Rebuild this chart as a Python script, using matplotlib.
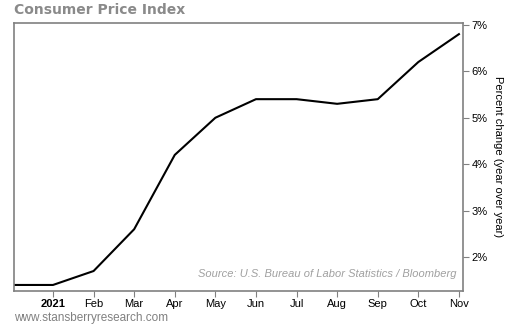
import matplotlib.pyplot as plt

plt.rcParams['font.family'] = ['Liberation Sans', 'DejaVu Sans']

# CPI, percent change year over year (Dec 2020 .. Nov 2021)
months = list(range(-1, 11))
cpi = [1.4, 1.4, 1.7, 2.6, 4.2, 5.0, 5.4, 5.4, 5.3, 5.4, 6.2, 6.8]
tick_labels = ['2021', 'Feb', 'Mar', 'Apr', 'May', 'Jun', 'Jul', 'Aug', 'Sep', 'Oct', 'Nov']
y_ticks = [2, 3, 4, 5, 6, 7]

fig = plt.figure(figsize=(5.1, 3.25), dpi=100)
ax = fig.add_axes([14 / 510, 1 - 291 / 325, 449 / 510, 268 / 325])

ax.plot(months, cpi, color='black', lw=1.5)

ax.set_xlim(-0.96, 10.1)
ax.set_ylim(1.27, 7.04)

gray = '#808080'
for s in ax.spines.values():
    s.set_color(gray)
    s.set_linewidth(1.2)

ax.yaxis.tick_right()
ax.yaxis.set_label_position('right')
ax.set_yticks(y_ticks)
ax.set_yticklabels([f'{v}%' for v in y_ticks], fontsize=8)
ax.set_xticks(range(0, 11))
ax.set_xticklabels(tick_labels, fontsize=8)
ax.get_xticklabels()[0].set_fontweight('bold')
ax.tick_params(axis='both', direction='out', length=4, color=gray, pad=2)
ax.set_ylabel('Percent change (year over year)', fontsize=8, rotation=270, labelpad=11)

ax.text(0.985, 0.045, 'Source: U.S. Bureau of Labor Statistics / Bloomberg',
        transform=ax.transAxes, ha='right', va='bottom', fontsize=8,
        style='italic', color='#a0a0a0')

fig.text(14 / 510, 1 - 10 / 325, 'Consumer Price Index', fontsize=10,
         fontweight='bold', color='#8a8a8a', family='DejaVu Sans', va='center')
fig.text(14 / 510, 1 - 318 / 325, 'www.stansberryresearch.com', fontsize=8.5,
         color='#808080', va='center')

fig.savefig('out.png', dpi=100)
